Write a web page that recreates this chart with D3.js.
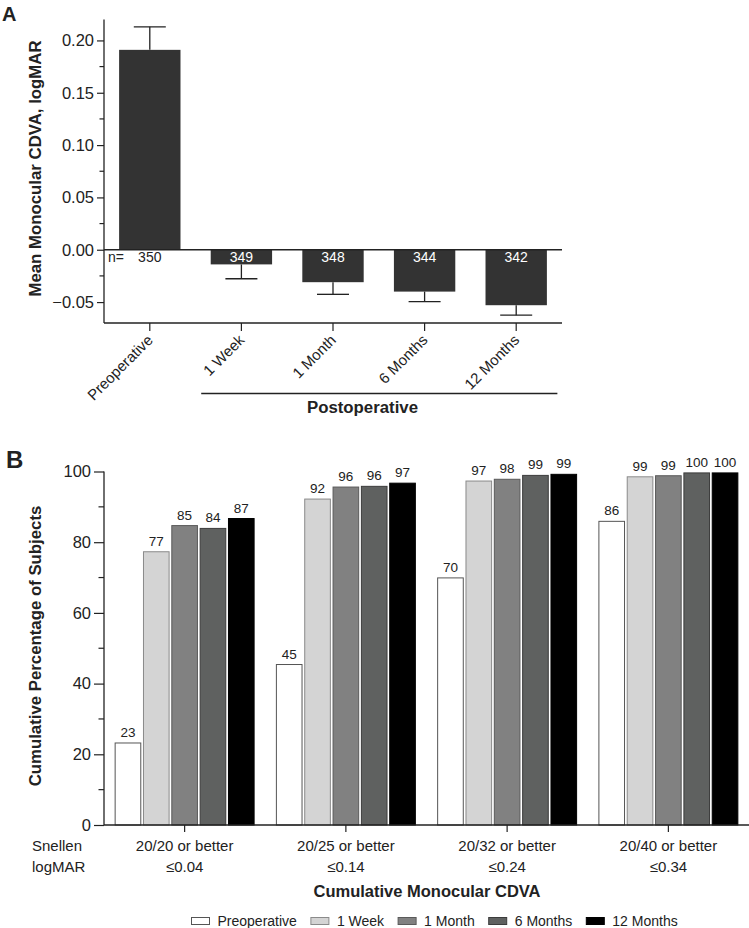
<!DOCTYPE html>
<html>
<head>
<meta charset="utf-8">
<script src="https://cdn.jsdelivr.net/npm/d3@7"></script>
<style>
  html, body { margin: 0; padding: 0; background: #fff; }
  svg { display: block; font-family: "Liberation Sans", Arial, Helvetica, sans-serif; }
</style>
</head>
<body>
<svg id="chart" width="749" height="928"></svg>
<script>
// ---------- Panel A data ----------
const visitsA = ["Preoperative", "1 Week", "1 Month", "6 Months", "12 Months"];
const meanCDVA = [0.191, -0.014, -0.031, -0.040, -0.053];
const errCDVA = [0.022, 0.0137, 0.0116, 0.0095, 0.0095];
const nSubjects = [350, 349, 348, 344, 342];
const ticksA = [-0.05, 0, 0.05, 0.10, 0.15, 0.20];
const minorTicksA = [-0.025, 0.025, 0.075, 0.125, 0.175];

// ---------- Panel B data ----------
const snellen = ["20/20 or better", "20/25 or better", "20/32 or better", "20/40 or better"];
const logmar = ["\u22640.04", "\u22640.14", "\u22640.24", "\u22640.34"];
const seriesB = ["Preoperative", "1 Week", "1 Month", "6 Months", "12 Months"];
const preop   = [23.2, 45.4, 69.9, 85.9];
const week1   = [77.3, 92.2, 97.3, 98.5];
const month1  = [84.7, 95.6, 97.8, 98.8];
const month6  = [83.9, 95.8, 98.9, 99.6];
const month12 = [86.7, 96.7, 99.2, 99.6];
const ticksB = [0, 20, 40, 60, 80, 100];
const minorTicksB = [10, 30, 50, 70, 90];

const seriesValues = [preop, week1, month1, month6, month12];
const fills   = ["#ffffff", "#d4d4d4", "#818181", "#5f6160", "#000000"];
const strokes = ["#555555", "#8a8a8a", "#5a5a5a", "#3c3c3c", "#000000"];

const ink = "#222";
const svg = d3.select("#chart");

// ================= PANEL A =================
const xA = d3.scaleBand().domain(visitsA).range([104, 562]).paddingInner(0.33).paddingOuter(0.165);
const yA = d3.scaleLinear().domain([-0.07, 0.22]).range([323, 19.5]);
const gA = svg.append("g");

// bars
gA.selectAll("rect.barA").data(visitsA).join("rect")
  .attr("class", "barA")
  .attr("x", d => xA(d))
  .attr("width", xA.bandwidth())
  .attr("y", (d, i) => yA(Math.max(0, meanCDVA[i])))
  .attr("height", (d, i) => Math.abs(yA(meanCDVA[i]) - yA(0)))
  .attr("fill", "#333333");

// error bars (away from zero)
visitsA.forEach((d, i) => {
  const cx = xA(d) + xA.bandwidth() / 2;
  const m = meanCDVA[i];
  const end = m >= 0 ? m + errCDVA[i] : m - errCDVA[i];
  gA.append("line").attr("x1", cx).attr("x2", cx).attr("y1", yA(m)).attr("y2", yA(end))
    .attr("stroke", ink).attr("stroke-width", 1.3);
  gA.append("line").attr("x1", cx - 16).attr("x2", cx + 16).attr("y1", yA(end)).attr("y2", yA(end))
    .attr("stroke", ink).attr("stroke-width", 1.3);
});

// zero line
gA.append("line").attr("x1", 104).attr("x2", 562).attr("y1", yA(0)).attr("y2", yA(0))
  .attr("stroke", ink).attr("stroke-width", 1.3);

// n labels
gA.append("text").attr("x", 108).attr("y", yA(0) + 12.5).attr("font-size", 14).attr("fill", ink).text("n=");
visitsA.forEach((d, i) => {
  gA.append("text")
    .attr("x", xA(d) + xA.bandwidth() / 2)
    .attr("y", yA(0) + 12.5)
    .attr("text-anchor", "middle")
    .attr("font-size", 14)
    .attr("fill", i === 0 ? ink : "#ffffff")
    .text(nSubjects[i]);
});

// y axis A
const yAxisA = d3.axisLeft(yA).tickValues(ticksA).tickFormat(d3.format(".2f")).tickSize(7).tickPadding(3);
const gyA = gA.append("g").attr("transform", "translate(104,0)").call(yAxisA);
gyA.select(".domain").attr("d", `M0,${yA(0.22)}V${yA(-0.07)}`).attr("stroke", ink).attr("stroke-width", 1.3);
gyA.selectAll(".tick line").attr("stroke", ink).attr("stroke-width", 1.2);
gyA.selectAll(".tick text").attr("font-size", 16.5).attr("fill", ink).attr("font-family", "Liberation Sans, Arial, sans-serif");
gyA.selectAll(".minor").data(minorTicksA).join("line").attr("class", "minor")
  .attr("x1", -4.5).attr("x2", 0).attr("y1", d => yA(d)).attr("y2", d => yA(d))
  .attr("stroke", ink).attr("stroke-width", 1.2);

// x axis A
const xAxisA = d3.axisBottom(xA).tickSize(8).tickSizeOuter(0).tickFormat("");
const gxA = gA.append("g").attr("transform", "translate(0,323)").call(xAxisA);
gxA.select(".domain").attr("d", "M104,0H562").attr("stroke", ink).attr("stroke-width", 1.3);
gxA.selectAll(".tick line").attr("stroke", ink).attr("stroke-width", 1.2);
visitsA.forEach(d => {
  const cx = xA(d) + xA.bandwidth() / 2;
  gA.append("text")
    .attr("transform", `translate(${cx + 4},${341}) rotate(-45)`)
    .attr("text-anchor", "end")
    .attr("font-size", 15)
    .attr("fill", ink)
    .text(d);
});

// Postoperative bracket
const postStart = xA("1 Week") - 9.5;
const postEnd = xA("12 Months") + xA.bandwidth() + 10.5;
gA.append("line").attr("x1", postStart).attr("x2", postEnd).attr("y1", 393.5).attr("y2", 393.5)
  .attr("stroke", ink).attr("stroke-width", 1.5);
gA.append("text").attr("x", 362.5).attr("y", 413).attr("text-anchor", "middle")
  .attr("font-size", 16.8).attr("font-weight", "bold").attr("fill", ink).text("Postoperative");

// y label A
gA.append("text").attr("transform", `translate(41,168.5) rotate(-90)`).attr("text-anchor", "middle")
  .attr("font-size", 16.8).attr("font-weight", "bold").attr("fill", ink).text("Mean Monocular CDVA, logMAR");

// panel letter
svg.append("text").attr("x", 2).attr("y", 21).attr("font-size", 20).attr("font-weight", "bold").attr("fill", ink).text("A");

// ================= PANEL B =================
const xB = d3.scaleBand().domain(snellen).range([104, 749]).paddingInner(0.132).paddingOuter(0.066);
const xInner = d3.scaleBand().domain(seriesB).range([0, xB.bandwidth()]).paddingInner(0.06);
const yB = d3.scaleLinear().domain([0, 100]).range([825, 471.5]);
const gB = svg.append("g");

seriesB.forEach((s, si) => {
  const vals = seriesValues[si];
  gB.selectAll(`rect.s${si}`).data(snellen).join("rect")
    .attr("class", `s${si}`)
    .attr("x", (d) => xB(d) + xInner(s) + 0.5)
    .attr("width", xInner.bandwidth() - 1)
    .attr("y", (d, gi) => yB(vals[gi]))
    .attr("height", (d, gi) => yB(0) - yB(vals[gi]))
    .attr("fill", fills[si])
    .attr("stroke", strokes[si])
    .attr("stroke-width", 1);
  gB.selectAll(`text.l${si}`).data(snellen).join("text")
    .attr("class", `l${si}`)
    .attr("x", (d) => xB(d) + xInner(s) + xInner.bandwidth() / 2)
    .attr("y", (d, gi) => yB(vals[gi]) - 6)
    .attr("text-anchor", "middle")
    .attr("font-size", 13.5)
    .attr("fill", ink)
    .text((d, gi) => Math.round(vals[gi]));
});

// y axis B
const yAxisB = d3.axisLeft(yB).tickValues(ticksB).tickFormat(d3.format("d")).tickSize(10).tickPadding(3);
const gyB = gB.append("g").attr("transform", "translate(104,0)").call(yAxisB);
gyB.select(".domain").attr("d", `M0,${yB(100)}V${yB(0)}`).attr("stroke", ink).attr("stroke-width", 1.3);
gyB.selectAll(".tick line").attr("stroke", ink).attr("stroke-width", 1.2);
gyB.selectAll(".tick text").attr("font-size", 16.5).attr("fill", ink).attr("font-family", "Liberation Sans, Arial, sans-serif");
gyB.selectAll(".minor").data(minorTicksB).join("line").attr("class", "minor")
  .attr("x1", -5.5).attr("x2", 0).attr("y1", d => yB(d)).attr("y2", d => yB(d))
  .attr("stroke", ink).attr("stroke-width", 1.2);

// x axis B
const xAxisB = d3.axisBottom(xB).tickSize(7).tickSizeOuter(0).tickFormat("");
const gxB = gB.append("g").attr("transform", `translate(0,${yB(0)})`).call(xAxisB);
gxB.select(".domain").attr("d", "M104,0H749").attr("stroke", ink).attr("stroke-width", 1.3);
gxB.selectAll(".tick line").attr("stroke", ink).attr("stroke-width", 1.2);
snellen.forEach((d, i) => {
  const cx = xB(d) + xB.bandwidth() / 2;
  gB.append("text").attr("x", cx).attr("y", 851).attr("text-anchor", "middle")
    .attr("font-size", 15).attr("fill", ink).text(d);
  gB.append("text").attr("x", cx).attr("y", 872).attr("text-anchor", "middle")
    .attr("font-size", 15).attr("fill", ink).text(logmar[i]);
});
gB.append("text").attr("x", 32).attr("y", 851).attr("font-size", 15).attr("fill", ink).text("Snellen");
gB.append("text").attr("x", 32).attr("y", 872).attr("font-size", 15).attr("fill", ink).text("logMAR");

gB.append("text").attr("x", 427).attr("y", 897).attr("text-anchor", "middle")
  .attr("font-size", 16.5).attr("font-weight", "bold").attr("fill", ink).text("Cumulative Monocular CDVA");

gB.append("text").attr("transform", `translate(41,646) rotate(-90)`).attr("text-anchor", "middle")
  .attr("font-size", 16.8).attr("font-weight", "bold").attr("fill", ink).text("Cumulative Percentage of Subjects");

svg.append("text").attr("x", 6).attr("y", 468).attr("font-size", 24).attr("font-weight", "bold").attr("fill", ink).text("B");

// legend
let lx = 191.5;
seriesB.forEach((s, si) => {
  const g = svg.append("g");
  g.append("rect").attr("x", lx).attr("y", 917.5).attr("width", 18).attr("height", 7)
    .attr("fill", fills[si]).attr("stroke", strokes[si]).attr("stroke-width", 1);
  const t = g.append("text").attr("x", lx + 26).attr("y", 926).attr("font-size", 14).attr("fill", ink).text(s);
  lx += 26 + t.node().getComputedTextLength() + 14;
});
</script>
</body>
</html>
